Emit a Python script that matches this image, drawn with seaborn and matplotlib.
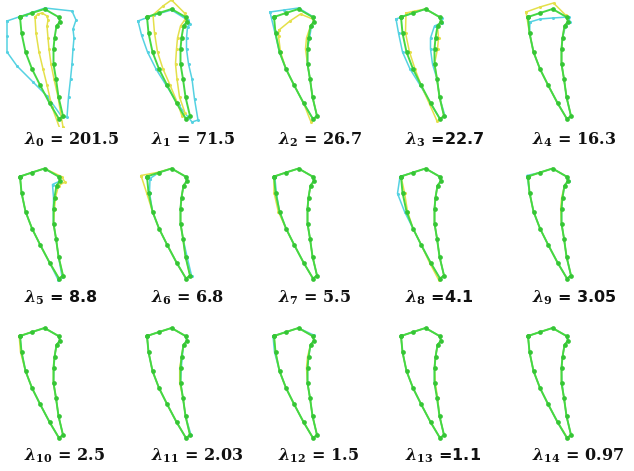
import matplotlib
matplotlib.use("Agg")
import matplotlib.pyplot as plt
import pandas as pd
import seaborn as sns

# Eigenvalue of each shape mode, in order
eigenvalues = [201.5, 71.5, 26.7, 22.7, 16.3, 8.8, 6.8, 5.5, 4.1, 3.05,
               2.5, 2.03, 1.5, 1.1, 0.97]
separators = [" = ", " = ", " = ", " =", " = ", " = ", " = ", " = ", " =", " = ",
              " = ", " = ", " = ", " =", " = "]
label_fonts = ["serif", "serif", "serif", "sans", "serif",
               "sans", "serif", "serif", "sans", "sans",
               "serif", "serif", "serif", "sans", "serif"]

# Mean outline landmarks (pixels, origin at the upper-left corner, y down)
mean_x = [0, 12, 24.5, 38.5, 40, 36.5, 34.5, 33.5, 33.5, 36, 38.5, 43, 39, 29.5, 20, 12, 5.5, 1.5]
mean_y = [0, -4, -8, 0, 4.5, 9, 21, 32, 47, 62, 80, 99, 102, 86, 68, 52, 35, 16]

# Landmark displacements of the "+" (cyan) outline for each mode
cyan_shift = [
    {0: (-13, 4), 1: (-6, 1.5), 2: (0.5, -1), 3: (13.5, -6), 4: (16, -1.5), 5: (16.5, 3),
     6: (19.5, 0), 7: (19.5, 0), 8: (18.5, 0), 9: (14.5, 0), 10: (10, 0), 11: (4, 1),
     12: (3, -2), 13: (-2.5, -7), 14: (-7, -3), 15: (-15, -3), 16: (-18.5, 0), 17: (-14.5, 3)},
    {0: (-9, 4), 1: (-5, 2), 2: (0, 1), 3: (2, 3), 4: (3, 2), 5: (4, 1), 6: (5, 0), 7: (6, 0),
     8: (8, 0), 9: (9, 0), 10: (9, 2), 11: (8, 4), 12: (6, 3), 13: (2, 2), 14: (-1, 0),
     15: (-3, 0), 16: (-5, 0), 17: (-7, 2)},
    {0: (-4, -5), 1: (-2, -3), 2: (0, -1), 3: (1, 0), 5: (1, 0), 6: (1, 0), 17: (-1, -2)},
    {0: (-5, 2), 3: (2, 1), 4: (1, 1), 5: (-3, 0), 6: (-5, 0), 7: (-4, 0), 8: (-2, 0),
     11: (1, 0), 14: (-1, 0), 15: (-3, 0), 16: (-4, 0), 17: (-4, 0)},
    {0: (2, 5), 1: (0, 6), 2: (0, 9), 3: (2, 0), 4: (2, 0), 5: (1, 0)},
    {5: (-4, -1), 6: (-1, 0), 11: (-1, 1), 12: (-1, 1)},
    {0: (3, 2), 10: (1.5, 0), 11: (1.5, 0), 17: (1, 0)},
    {0: (0.8, 0), 17: (0.8, 0)},
    {0: (-1, 0), 16: (-2, 0), 17: (-5, 1)},
    {0: (-1, -1), 4: (1, 0)},
    {7: (0.6, 0)},
    {6: (0.8, 0), 7: (0.8, 0), 11: (1, 0)},
    {0: (-1, 0), 3: (1, -1), 17: (-1, 0)},
    {9: (0.5, 0)},
    {8: (0.5, 0)},
]

# Landmark displacements of the "-" (yellow) outline for each mode
yellow_shift = [
    {0: (15, 0), 1: (6, 1), 2: (-2.5, 4), 3: (-11.5, -1), 4: (-12, -1.5), 5: (-9.5, 0),
     6: (-6.5, 0), 7: (-4.5, 0), 8: (-2.5, 0), 9: (-2, 0), 10: (-0.5, 0), 11: (0, 11),
     12: (1, 10), 13: (2.5, 4), 14: (7, 0), 15: (11, 0), 16: (13.5, 0), 17: (14.5, 0)},
    {0: (6, -2), 1: (4, -7), 2: (0, -9), 3: (-1, -4), 4: (-2, -2), 5: (-3, 0), 6: (-4, 0),
     7: (-4, 0), 8: (-5, 0), 9: (-6, 0), 10: (-6, 0), 11: (-5, -3), 12: (-4, -3), 13: (1, 0),
     14: (3, 0), 15: (4, 0), 16: (5, 0), 17: (6, 0)},
    {0: (5, 13), 1: (4, 8), 2: (2, 5), 3: (0, 2), 6: (-2, 0), 7: (-2, 0), 12: (-2, 3),
     16: (1, 0), 17: (3, 3)},
    {0: (5, -4), 1: (2, -2), 6: (3, 0), 7: (3, 0), 12: (-3, 2), 13: (-1, 1), 15: (2, 0),
     16: (3, 0), 17: (3, 0)},
    {0: (-2, -5), 1: (0, -6), 2: (1, -6), 3: (-1, -2)},
    {3: (3, 0), 4: (5, 1), 5: (2, 0), 6: (1, 0), 7: (1, 0)},
    {0: (-6, -1), 1: (-2, 0), 17: (-2, 0)},
    {16: (-1.2, 0), 17: (-1.5, 0)},
    {12: (-1.5, 1), 13: (-1, 0), 16: (1, 0), 17: (2, 0)},
    {6: (-0.8, 0), 7: (-0.8, 0)},
    {0: (-0.8, 0), 17: (-1, 0)},
    {7: (-0.8, 0), 8: (-0.8, 0)},
    {6: (-1, 0), 7: (-1, 0)},
    {8: (0.8, 0), 9: (0.6, 0)},
    {12: (0.6, 0)},
]

CYAN = "#55d2e2"
YELLOW = "#e4e04a"
GREEN = "#44d844"
GREEN_DOT = "#35c535"

sns.set_theme(style="white")
plt.rcParams["mathtext.fontset"] = "custom"
plt.rcParams["mathtext.it"] = "DejaVu Serif:italic:bold"
plt.rcParams["mathtext.rm"] = "DejaVu Serif:bold"
plt.rcParams["mathtext.bf"] = "DejaVu Serif:bold"

W, H = 634, 471
fig = plt.figure(figsize=(W / 100, H / 100), dpi=100)
fig.patch.set_facecolor("white")


def outline(shift):
    xs = [x + shift.get(i, (0, 0))[0] for i, x in enumerate(mean_x)]
    ys = [y + shift.get(i, (0, 0))[1] for i, y in enumerate(mean_y)]
    xs.append(xs[0])
    ys.append(ys[0])
    return pd.DataFrame({"x": xs, "y": ys})


# panel extent in local pixel units
LEFT, RIGHT, TOP, BOTTOM = -20, 80, -20, 110

for k, lam in enumerate(eigenvalues):
    row, col = divmod(k, 5)
    x0 = 20 + 127 * col
    y0 = 17 + 159.5 * row
    ax = fig.add_axes([(x0 + LEFT) / W, 1 - (y0 + BOTTOM) / H,
                       (RIGHT - LEFT) / W, (BOTTOM - TOP) / H])
    ax.set_xlim(LEFT, RIGHT)
    ax.set_ylim(BOTTOM, TOP)
    ax.patch.set_alpha(0)

    styles = [
        (cyan_shift[k], CYAN, CYAN, 2.2, 1.1),
        (yellow_shift[k], YELLOW, YELLOW, 2.2, 1.1),
        ({}, GREEN, GREEN_DOT, 3.4, 1.4),
    ]
    for shift, color, dot, ms, lw in styles:
        sns.lineplot(data=outline(shift), x="x", y="y", sort=False, estimator=None,
                     ax=ax, color=color, linewidth=lw, marker="o", markersize=ms,
                     markerfacecolor=dot, markeredgewidth=0, legend=False)
    ax.set_axis_off()

    family = "DejaVu Serif" if label_fonts[k] == "serif" else "DejaVu Sans"
    label = rf"$\lambda_{{{k}}}$" + separators[k] + f"{lam:g}"
    lx = 24 + 127 * col
    ly = 140 + 158 * row
    fig.text(lx / W, 1 - ly / H, label, ha="left", va="center", fontsize=11.5,
             fontweight="bold", family=family, color="#111111")

fig.savefig("out.png", dpi=100, facecolor="white")
